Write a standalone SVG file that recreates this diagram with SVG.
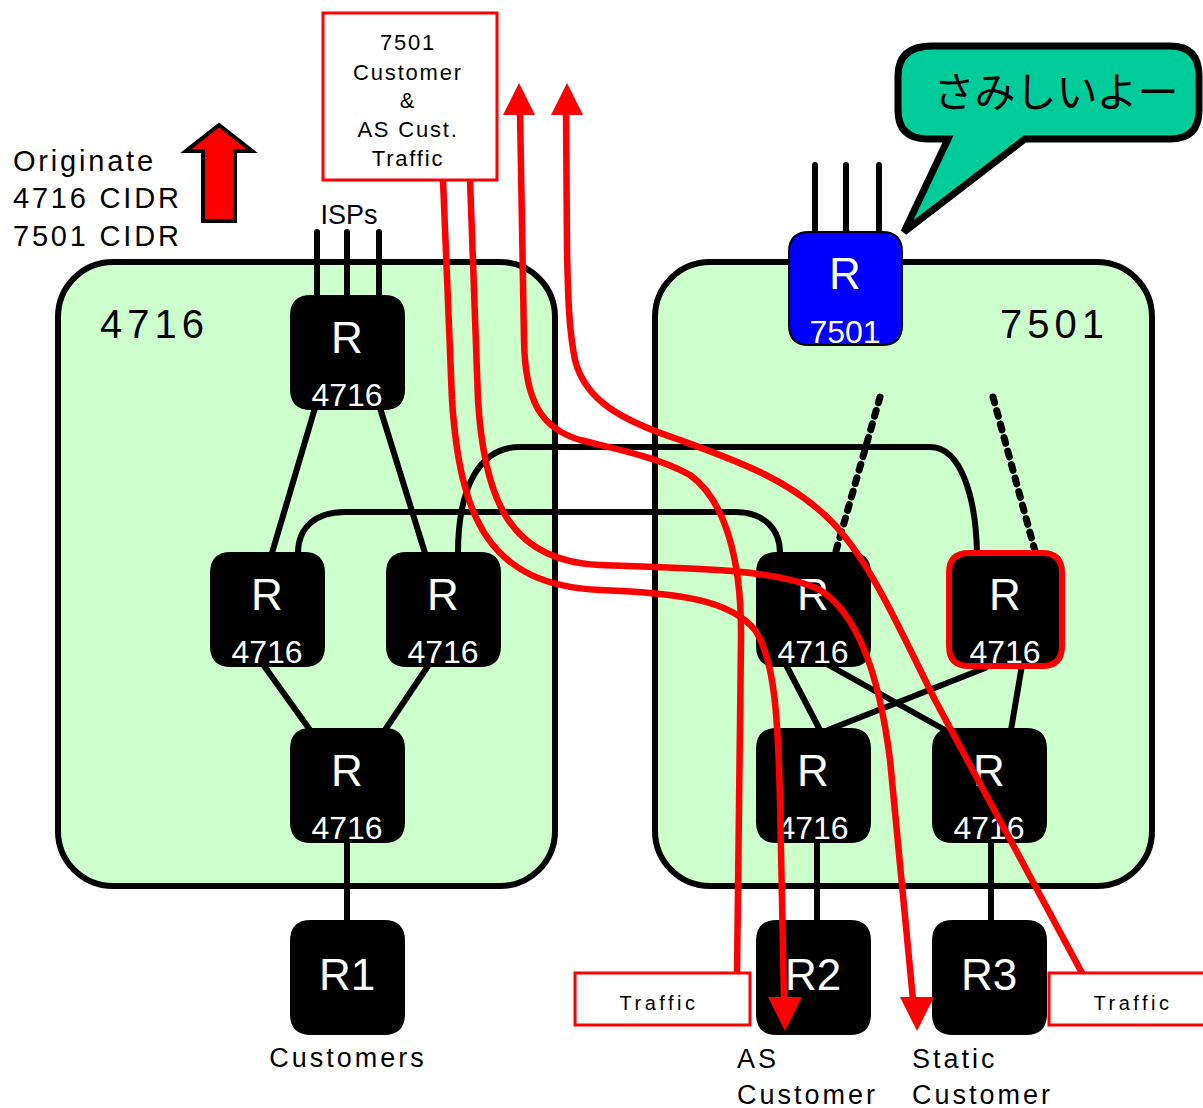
<svg xmlns="http://www.w3.org/2000/svg" width="1203" height="1108" viewBox="0 0 1203 1108">
<defs>
<style>
.as{fill:#CCFFCC;stroke:#000;stroke-width:6}
.ln{fill:none;stroke:#000;stroke-width:6;stroke-linecap:round}
.dash{fill:none;stroke:#000;stroke-width:7;stroke-linecap:round;stroke-dasharray:6 8}
.red{fill:none;stroke:#FF0000;stroke-width:6.5;stroke-linecap:round;stroke-linejoin:round}
.rh{fill:#FF0000}
.rt{fill:#000;stroke:#000;stroke-width:2;stroke-linejoin:round}
.t{font-family:"Liberation Sans",Arial,sans-serif;fill:#000}
.w{font-family:"Liberation Sans",Arial,sans-serif;fill:#fff;text-anchor:middle}
.big{font-size:44px}
.num{font-size:32px}
.box{fill:#fff;stroke:#FF0000;stroke-width:3}
</style>
<path id="rtr" d="M20,0 H93 Q113,0 113,20 V93 Q113,113 93,113 H20 Q0,113 0,93 V20 Q0,0 20,0 Z"/>
</defs>

<g id="as4716">
<rect class="as" x="58" y="262" width="497" height="624" rx="55"/>
<text class="t" x="100" y="338" font-size="40" letter-spacing="5">4716</text>
</g>
<g id="as7501">
<rect class="as" x="655" y="262" width="497" height="624" rx="55"/>
<text class="t" x="1000" y="338" font-size="40" letter-spacing="5">7501</text>
</g>

<g id="connectors">
<line class="ln" x1="317" y1="232" x2="317" y2="296"/>
<line class="ln" x1="347" y1="232" x2="347" y2="296"/>
<line class="ln" x1="379" y1="232" x2="379" y2="296"/>
<line class="ln" x1="815" y1="165" x2="815" y2="232"/>
<line class="ln" x1="846" y1="165" x2="846" y2="232"/>
<line class="ln" x1="879" y1="165" x2="879" y2="232"/>
<line class="ln" x1="315" y1="408" x2="272" y2="553"/>
<line class="ln" x1="380" y1="408" x2="425" y2="553"/>
<line class="ln" x1="262" y1="663" x2="310" y2="730"/>
<line class="ln" x1="430" y1="663" x2="385" y2="730"/>
<line class="ln" x1="347" y1="840" x2="347" y2="921"/>
<path class="ln" d="M298,553 C298,528 315,512 345,512 H735 C765,512 780,530 780,553"/>
<path class="ln" d="M458,553 C458,490 478,447 520,447 H930 C962,447 976,500 977,553"/>
<line class="ln" x1="785" y1="663" x2="820" y2="730"/>
<line class="ln" x1="825" y1="663" x2="945" y2="730"/>
<line class="ln" x1="985" y1="668" x2="828" y2="730"/>
<line class="ln" x1="1022" y1="665" x2="1011" y2="730"/>
<line class="ln" x1="817" y1="840" x2="817" y2="921"/>
<line class="ln" x1="991" y1="840" x2="991" y2="921"/>
<line class="dash" x1="880" y1="397" x2="836" y2="551"/>
<line class="dash" x1="993" y1="397" x2="1035" y2="551"/>
</g>

<g id="r-top-left"><use href="#rtr" class="rt" x="291" y="296"/><text class="w big" x="347" y="353">R</text><text class="w num" x="347" y="406">4716</text></g>
<g id="r-mid-left"><use href="#rtr" class="rt" x="211" y="553"/><text class="w big" x="267" y="610">R</text><text class="w num" x="267" y="663">4716</text></g>
<g id="r-mid-right"><use href="#rtr" class="rt" x="387" y="553"/><text class="w big" x="443" y="610">R</text><text class="w num" x="443" y="663">4716</text></g>
<g id="r-bottom-left"><use href="#rtr" class="rt" x="291" y="729"/><text class="w big" x="347" y="786">R</text><text class="w num" x="347" y="839">4716</text></g>
<g id="r1"><use href="#rtr" class="rt" x="291" y="921"/><text class="w big" x="347" y="990">R1</text></g>
<g id="r7501"><use href="#rtr" x="789" y="232" style="fill:#0000FF;stroke:#000;stroke-width:2"/><text class="w big" x="845" y="289">R</text><text class="w num" x="845" y="343">7501</text></g>
<g id="r-right-1"><use href="#rtr" class="rt" x="757" y="553"/><text class="w big" x="813" y="610">R</text><text class="w num" x="813" y="663">4716</text></g>
<g id="r-right-2"><use href="#rtr" x="949" y="553" style="fill:#000;stroke:#FF0000;stroke-width:6;stroke-linejoin:round"/><text class="w big" x="1005" y="610">R</text><text class="w num" x="1005" y="663">4716</text></g>
<g id="r-right-3"><use href="#rtr" class="rt" x="757" y="729"/><text class="w big" x="813" y="786">R</text><text class="w num" x="813" y="839">4716</text></g>
<g id="r-right-4"><use href="#rtr" class="rt" x="933" y="729"/><text class="w big" x="989" y="786">R</text><text class="w num" x="989" y="839">4716</text></g>
<g id="r2"><use href="#rtr" class="rt" x="757" y="921"/><text class="w big" x="813" y="990">R2</text></g>
<g id="r3"><use href="#rtr" class="rt" x="933" y="921"/><text class="w big" x="989" y="990">R3</text></g>

<g id="traffic-flows">
<path class="red" d="M443,180 L452,400 C460,520 490,585 600,590 C680,593 730,600 755,630 C775,660 778,720 780,800 L784,1000"/>
<path class="red" d="M470,180 L478,400 C484,500 510,562 600,565 C700,568 780,570 820,590 C860,615 880,680 890,760 L913,1000"/>
<path class="red" d="M737,973 L741,640 C742,560 725,500 690,475 C660,458 620,450 580,440 C540,428 525,400 524,340 L520,112"/>
<path class="red" d="M1082,973 L935,700 C900,630 870,560 830,520 C790,480 740,462 680,440 C620,420 585,400 575,360 C569,330 568,300 567,250 L566,112"/>
<polygon class="rh" points="503,115 535,115 519,83"/>
<polygon class="rh" points="551,115 583,115 567,83"/>
<polygon class="rh" points="768,997 802,997 785,1031"/>
<polygon class="rh" points="900,997 934,997 917,1031"/>
</g>

<g id="label-box">
<rect class="box" x="323" y="13" width="174" height="167"/>
<text class="t" text-anchor="middle" font-size="22" letter-spacing="1.8"><tspan x="408" y="50">7501</tspan><tspan x="408" y="80">Customer</tspan><tspan x="408" y="108">&amp;</tspan><tspan x="408" y="137">AS Cust.</tspan><tspan x="408" y="166">Traffic</tspan></text>
</g>
<g id="traffic-left"><rect class="box" x="575" y="973" width="175" height="52"/><text class="t" x="659" y="1010" font-size="20" letter-spacing="3.5" text-anchor="middle">Traffic</text></g>
<g id="traffic-right"><rect class="box" x="1049" y="973" width="165" height="52"/><text class="t" x="1133" y="1010" font-size="20" letter-spacing="3.5" text-anchor="middle">Traffic</text></g>

<g id="originate">
<text class="t" font-size="29" letter-spacing="2.8"><tspan x="13" y="171">Originate</tspan><tspan x="13" y="208">4716 CIDR</tspan><tspan x="13" y="246">7501 CIDR</tspan></text>
<polygon points="203,221 235,221 235,151 252,151 219,125 186,151 203,151" fill="#FF0000" stroke="#000" stroke-width="4" stroke-linejoin="miter"/>
</g>
<text class="t" x="349" y="224" font-size="27" text-anchor="middle">ISPs</text>

<g id="bubble">
<path d="M932,46 H1170 Q1199,46 1199,76 V110 Q1199,139 1170,139 H1025 L904,232 L948,139 H928 Q898,139 898,110 V76 Q898,46 932,46 Z" fill="#00CC99" stroke="#000" stroke-width="7" stroke-linejoin="miter"/>
<text x="1056" y="107" font-size="41" text-anchor="middle" font-family="'Noto Sans CJK JP','Noto Sans CJK SC',sans-serif" fill="#000">さみしいよー</text>
</g>

<g id="labels">
<text class="t" x="348" y="1067" font-size="27" letter-spacing="3" text-anchor="middle">Customers</text>
<text class="t" font-size="27" letter-spacing="3"><tspan x="737" y="1068">AS</tspan><tspan x="737" y="1104">Customer</tspan></text>
<text class="t" font-size="27" letter-spacing="3"><tspan x="912" y="1068">Static</tspan><tspan x="912" y="1104">Customer</tspan></text>
</g>
</svg>
